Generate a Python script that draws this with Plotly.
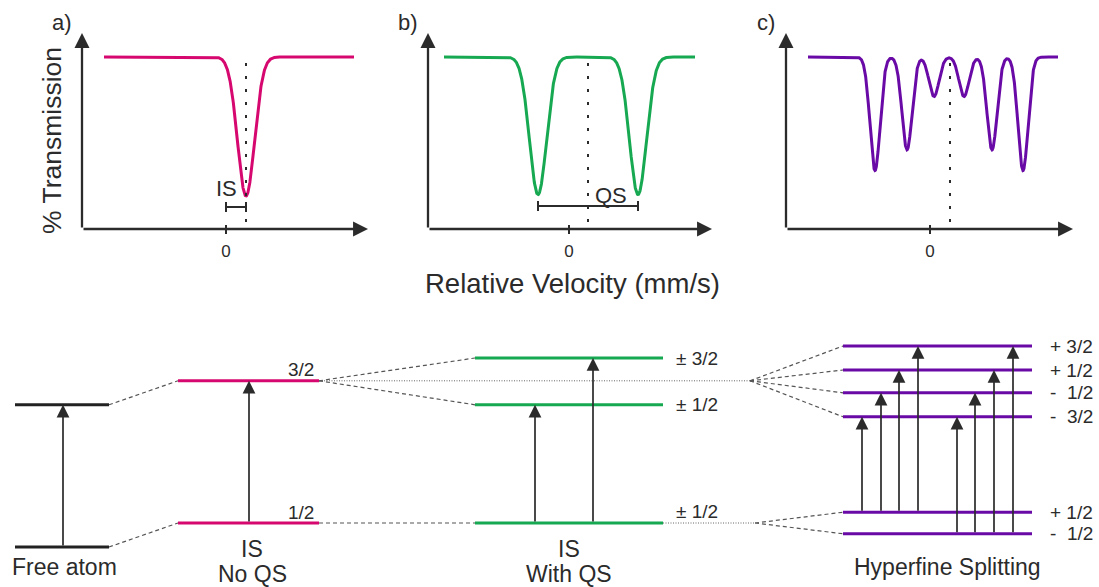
import numpy as np
import plotly.graph_objects as go

W, H = 1099, 587
FONT = "Liberation Sans, Arial, sans-serif"
INK = "#2b2b2b"
PINK = "#d6086f"
GREEN = "#17a852"
PURPLE = "#6a0aa6"

# ---------------- Mössbauer spectra (velocity in mm/s, transmission in %) ----------------
baseline = 100.0
single_pos = [1.0]
single_depth = [80.8]
doublet_pos = [-1.55, 3.45]
doublet_depth = [80.0, 80.0]
sextet_pos = [-2.75, -1.15, 0.2, 1.7, 3.1, 4.65]
sextet_depth = [66.0, 54.0, 23.0, 23.0, 54.0, 66.0]
centre_shift = [1.0, 0.95, 1.0]
line_sigma = [0.425, 0.425, 0.25]
scan_limits = [(-6.1, 6.4), (-6.25, 6.3), (-6.1, 6.4)]
tick_values = [0]
tick_text = ["0"]
panel_tags = ["a)", "b)", "c)"]

# ---------------- nuclear energy levels (arbitrary energy units) ----------------
free_levels = [0.0, 23.7]            # ground, excited
is_levels = [4.0, 27.7]              # ground 1/2, excited 3/2
is_labels = ["1/2", "3/2"]
qs_levels = [4.0, 23.7, 31.5]        # ground ±1/2, excited ±1/2, excited ±3/2
qs_labels = ["± 1/2", "± 1/2", "± 3/2"]
hf_ground = [5.8, 2.2]               # m = +1/2, -1/2
hf_ground_labels = ["+ 1/2", "-  1/2"]
hf_excited = [33.5, 29.5, 25.7, 21.7]  # m = +3/2, +1/2, -1/2, -3/2
hf_excited_labels = ["+ 3/2", "+ 1/2", "-  1/2", "-  3/2"]
# allowed hyperfine transitions: (ground index, excited index)
hf_transitions = [(0, 3), (0, 2), (0, 1), (0, 0), (1, 3), (1, 2), (1, 1), (1, 0)]
column_titles = [["Free atom"], ["IS", "No QS"], ["IS", "With QS"], ["Hyperfine Splitting"]]

# ---------------- layout geometry (pixels) ----------------
PX_PER_V = 20.0
PX_PER_T = 1.72
AX_BOTTOM, AX_TOP = 229, 33
panel_px = [(82, 368, 226), (428, 712, 569), (786, 1073, 930)]  # left, right, zero-velocity

fig = go.Figure()
annotations = []
shapes = []
layout_axes = {}


def paper_text(px, py, text, size, angle=0, xanchor="center", yanchor="middle"):
    annotations.append(dict(x=px / W, y=1 - py / H, xref="paper", yref="paper", text=text,
                            showarrow=False, textangle=angle, xanchor=xanchor,
                            yanchor=yanchor, borderpad=0,
                            font=dict(family=FONT, size=size, color=INK)))


t_top = (AX_BOTTOM - AX_TOP) / PX_PER_T
spectra = [(single_pos, single_depth, PINK),
           (doublet_pos, doublet_depth, GREEN),
           (sextet_pos, sextet_depth, PURPLE)]

for i, ((left, right, zero), (pos, depth, colour)) in enumerate(zip(panel_px, spectra)):
    n = "" if i == 0 else str(i + 1)
    xr = [(left - zero) / PX_PER_V, (right - zero) / PX_PER_V]
    layout_axes["xaxis" + n] = dict(
        domain=[left / W, right / W], range=xr, anchor="y" + n,
        showgrid=False, zeroline=False, showline=False,
        tickvals=tick_values, ticktext=tick_text, ticks="outside", ticklen=4,
        tickwidth=2, tickcolor=INK, ticklabelstandoff=3,
        tickfont=dict(family=FONT, size=17, color=INK),
    )
    layout_axes["yaxis" + n] = dict(
        domain=[1 - AX_BOTTOM / H, 1 - AX_TOP / H], range=[0, t_top], anchor="x" + n,
        showgrid=False, zeroline=False, showline=False, showticklabels=False,
    )
    xref, yref = "x" + n, "y" + n

    lo, hi = scan_limits[i]
    v = np.linspace(lo, hi, 1500)
    t = np.full_like(v, baseline)
    for p, d in zip(pos, depth):
        t -= d * np.exp(-0.5 * ((v - p) / line_sigma[i]) ** 2)
    fig.add_trace(go.Scatter(x=v, y=t, mode="lines", xaxis=xref, yaxis=yref,
                             line=dict(color=colour, width=3), hoverinfo="skip",
                             showlegend=False))

    # centre-of-spectrum marker
    fig.add_trace(go.Scatter(x=[centre_shift[i], centre_shift[i]], y=[4, 98], mode="lines",
                             xaxis=xref, yaxis=yref, showlegend=False, hoverinfo="skip",
                             line=dict(color=INK, width=2, dash="3px,10px")))

    # upper half of the zero tick
    shapes.append(dict(type="line", xref=xref, yref=yref, x0=0, x1=0, y0=0, y1=4 / PX_PER_T,
                       line=dict(color=INK, width=2)))

    # arrowed axes
    annotations.append(dict(x=xr[1], y=0, ax=xr[0], ay=0, xref=xref, yref=yref,
                            axref=xref, ayref=yref, text="", showarrow=True,
                            arrowhead=2, arrowsize=1.3, arrowwidth=2.3, arrowcolor=INK))
    annotations.append(dict(x=xr[0], y=t_top, ax=xr[0], ay=0, xref=xref, yref=yref,
                            axref=xref, ayref=yref, text="", showarrow=True,
                            arrowhead=2, arrowsize=1.3, arrowwidth=2.3, arrowcolor=INK))
    paper_text(left - 20, 22, panel_tags[i], 22)

# isomer shift bracket (panel a)
is_t = (AX_BOTTOM - 207) / PX_PER_T
cap = 5 / PX_PER_T
for x0, y0, x1, y1 in [(0, is_t, single_pos[0], is_t),
                       (0, is_t - cap, 0, is_t + cap),
                       (single_pos[0], is_t - cap, single_pos[0], is_t + cap)]:
    shapes.append(dict(type="line", xref="x", yref="y", x0=x0, y0=y0, x1=x1, y1=y1,
                       line=dict(color=INK, width=2)))
annotations.append(dict(x=0, y=(AX_BOTTOM - 188) / PX_PER_T, xref="x", yref="y", text="IS",
                        showarrow=False, font=dict(family=FONT, size=22, color=INK)))

# quadrupole splitting bracket (panel b)
qs_t = (AX_BOTTOM - 206) / PX_PER_T
for x0, y0, x1, y1 in [(doublet_pos[0], qs_t, doublet_pos[1], qs_t),
                       (doublet_pos[0], qs_t - cap, doublet_pos[0], qs_t + cap),
                       (doublet_pos[1], qs_t - cap, doublet_pos[1], qs_t + cap)]:
    shapes.append(dict(type="line", xref="x2", yref="y2", x0=x0, y0=y0, x1=x1, y1=y1,
                       line=dict(color=INK, width=2)))
annotations.append(dict(x=(611 - 569) / PX_PER_V, y=(AX_BOTTOM - 195) / PX_PER_T,
                        xref="x2", yref="y2", text="QS", showarrow=False,
                        font=dict(family=FONT, size=22, color=INK)))

paper_text(52, 141, "% Transmission", 26.5, angle=-90)
paper_text(572, 284, "Relative Velocity (mm/s)", 27.5)

# ---------------- energy-level diagram ----------------
PX_PER_E = 6.0
E0_PX = 547
layout_axes["xaxis4"] = dict(domain=[0, 1], range=[0, W], anchor="y4", visible=False)
layout_axes["yaxis4"] = dict(domain=[0, 1], range=[(E0_PX - H) / PX_PER_E, E0_PX / PX_PER_E],
                             anchor="x4", visible=False)
cols = {"free": (15, 109), "is": (178, 319), "qs": (475, 663), "hf": (843, 1032)}
fan_x = (750, 755)


def seg(x0, x1, y0, y1, colour, width, dash=None):
    fig.add_trace(go.Scatter(x=[x0, x1], y=[y0, y1], mode="lines", xaxis="x4", yaxis="y4",
                             showlegend=False, hoverinfo="skip",
                             line=dict(color=colour, width=width, dash=dash)))


def transition(x, e0, e1):
    annotations.append(dict(x=x, y=e1, ax=x, ay=e0, xref="x4", yref="y4", axref="x4",
                            ayref="y4", text="", showarrow=True, arrowhead=2,
                            arrowsize=1.5, arrowwidth=1.7, arrowcolor=INK))


def label(x, e, text, anchor="left", size=19):
    annotations.append(dict(x=x, y=e, xref="x4", yref="y4", text=text, showarrow=False,
                            xanchor=anchor, font=dict(family=FONT, size=size, color=INK)))


DASH = "4px,3px"
DOT = "1px,1.5px"
# connectors
seg(cols["free"][1], cols["is"][0], free_levels[1], is_levels[1], "#555", 1.2, DASH)
seg(cols["free"][1], cols["is"][0], free_levels[0], is_levels[0], "#555", 1.2, DASH)
seg(cols["is"][1], cols["qs"][0], is_levels[1], qs_levels[2], "#555", 1.2, DASH)
seg(cols["is"][1], cols["qs"][0], is_levels[1], qs_levels[1], "#555", 1.2, DASH)
seg(cols["is"][1], cols["qs"][0], is_levels[0], qs_levels[0], "#555", 1.2, DASH)
seg(cols["is"][1], fan_x[0], is_levels[1], is_levels[1], "#666", 1.0, DOT)
seg(cols["qs"][1], fan_x[1], qs_levels[0], qs_levels[0], "#666", 1.0, DOT)
for e in hf_excited:
    seg(fan_x[0], cols["hf"][0], is_levels[1], e, "#555", 1.2, DASH)
for e in hf_ground:
    seg(fan_x[1], cols["hf"][0], qs_levels[0], e, "#555", 1.2, DASH)

# levels
for e in free_levels:
    seg(*cols["free"], e, e, "#222", 3)
for e in is_levels:
    seg(*cols["is"], e, e, PINK, 3)
for e in qs_levels:
    seg(*cols["qs"], e, e, GREEN, 3)
for e in hf_excited + hf_ground:
    seg(*cols["hf"], e, e, PURPLE, 3)

# transitions
transition(63, free_levels[0], free_levels[1])
transition(249, is_levels[0], is_levels[1])
transition(535, qs_levels[0], qs_levels[1])
transition(593, qs_levels[0], qs_levels[2])
hf_arrow_x = [862, 881, 899, 918, 957, 975, 994, 1013]
for x, (g, ex) in zip(hf_arrow_x, hf_transitions):
    transition(x, hf_ground[g], hf_excited[ex])

# level labels
label(301, is_levels[1] + 11 / PX_PER_E, is_labels[1], "center")
label(301, is_levels[0] + 11 / PX_PER_E, is_labels[0], "center")
label(674, qs_levels[2], qs_labels[2])
label(674, qs_levels[1], qs_labels[1])
label(674, qs_levels[0] + 12 / PX_PER_E, qs_labels[0])
for e, t in zip(hf_excited, hf_excited_labels):
    label(1048, e, t)
for e, t in zip(hf_ground, hf_ground_labels):
    label(1048, e, t)

# column titles (centre x, centre y of each text line)
title_lines = [[(64, 567)], [(252, 549), (252, 574)], [(569, 549), (569, 574)], [(947, 567)]]
for lines, texts in zip(title_lines, column_titles):
    for (x, y), t in zip(lines, texts):
        paper_text(x, y, t, 23)

fig.update_layout(
    width=W, height=H, margin=dict(l=0, r=0, t=0, b=0),
    paper_bgcolor="white", plot_bgcolor="rgba(0,0,0,0)",
    showlegend=False, annotations=annotations, shapes=shapes,
    **layout_axes,
)
fig.write_html("out.html")
